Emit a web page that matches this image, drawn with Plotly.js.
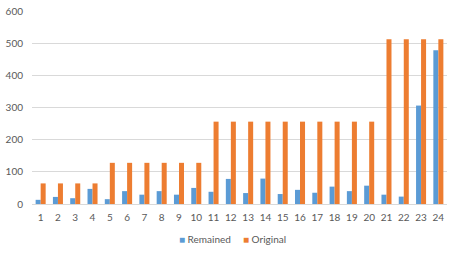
<!DOCTYPE html>
<html><head><meta charset="utf-8">
<script src="https://cdn.plot.ly/plotly-3.0.1.min.js"></script>
<style>html,body{margin:0;padding:0;background:#fff}#chart{width:457px;height:254px}</style>
</head><body><div id="chart"></div>
<script>
var categories = ["1","2","3","4","5","6","7","8","9","10","11","12","13","14","15","16","17","18","19","20","21","22","23","24"];
var remained = [13,22,18,47,15,40,29,40,29,50,38,78,34,79,31,44,35,54,40,57,29,23,306,478];
var original = [64,64,64,64,128,128,128,128,128,128,256,256,256,256,256,256,256,256,256,256,512,512,512,512];
var yTicks = [0,100,200,300,400,500,600];
var seriesNames = ["Remained", "Original"];
var seriesColors = ["#5B9BD5", "#ED7D31"];

var font = {family: "Lato, 'Open Sans', sans-serif", size: 10, color: "#595959"};
Plotly.newPlot("chart", [
  {type: "bar", name: seriesNames[0], x: categories, y: remained, marker: {color: seriesColors[0]}},
  {type: "bar", name: seriesNames[1], x: categories, y: original, marker: {color: seriesColors[1]}}
], {
  width: 457, height: 254,
  margin: {l: 32, r: 10, t: 11, b: 50},
  paper_bgcolor: "#fff", plot_bgcolor: "#fff",
  font: font,
  barmode: "group", bargap: 0.42, bargroupgap: 0,
  xaxis: {type: "category", showgrid: false, showline: true, linecolor: "#D9D9D9", linewidth: 1, ticks: "", tickfont: font, ticklabelstandoff: 4, fixedrange: true, automargin: false},
  yaxis: {range: [0, 600], tickvals: yTicks, showgrid: true, gridcolor: "#D9D9D9", gridwidth: 1, zeroline: false, showline: false, ticks: "", tickfont: font, ticklabelstandoff: 8, automargin: false},
  showlegend: false,
  annotations: [
    {xref: "paper", yref: "paper", x: 0.35, y: -0.182, xanchor: "left", yanchor: "middle", showarrow: false, font: font,
     text: "<span style='color:" + seriesColors[0] + "'>■</span> " + seriesNames[0]},
    {xref: "paper", yref: "paper", x: 0.503, y: -0.182, xanchor: "left", yanchor: "middle", showarrow: false, font: font,
     text: "<span style='color:" + seriesColors[1] + "'>■</span> " + seriesNames[1]}
  ]
}, {displayModeBar: false, staticPlot: true});
</script></body></html>
